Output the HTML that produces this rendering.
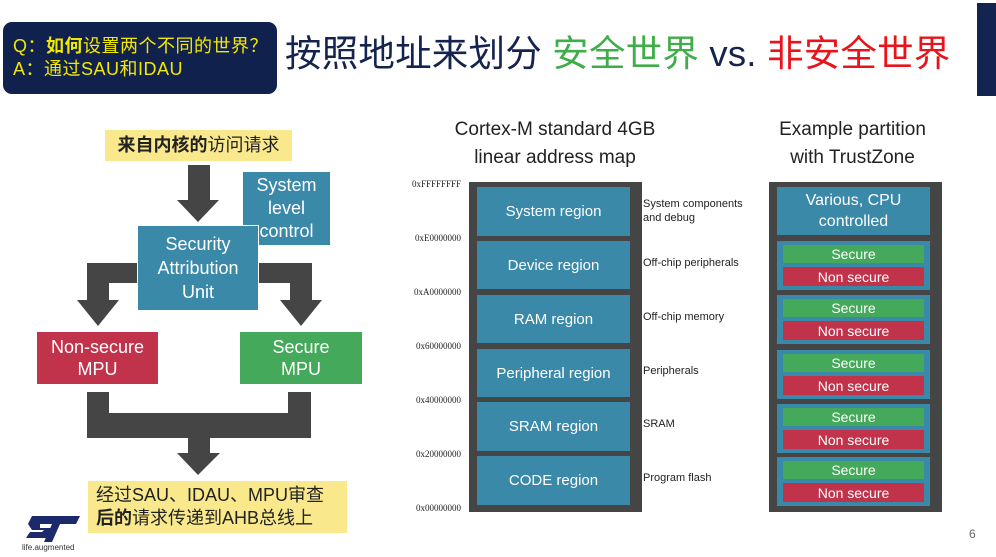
<!DOCTYPE html>
<html><head><meta charset="utf-8"><style>
body{margin:0;width:996px;height:557px;background:#fff;position:relative;overflow:hidden;font-family:"Liberation Sans","Noto Sans CJK SC",sans-serif}
.a{position:absolute}
.c{display:flex;align-items:center;justify-content:center;text-align:center;color:#fff}
.t{background:#3a89a9}
.g{background:#44a95a}
.r{background:#c1334b}
.dk{background:#454545}
.ad{position:absolute;right:535px;font-size:9px;color:#222;font-family:"Liberation Serif",serif}
.sl{position:absolute;left:643px;font-size:11px;color:#222;line-height:14px}
</style></head><body>
<div class="a" style="left:3px;top:22px;width:274px;height:72px;background:#11214d;border-radius:9px"></div>
<div class="a" style="left:13px;top:35px;color:#f2e800;font-size:18px;line-height:23px;letter-spacing:0.5px;white-space:nowrap">Q：<b>如何</b>设置两个不同的世界？<br>A：通过SAU和IDAU</div>
<div class="a" style="left:285px;top:31px;font-size:36.5px;line-height:46px;letter-spacing:0.2px;color:#14244f;white-space:nowrap">按照地址来划分 <span style="color:#3fae4a">安全世界</span> vs. <span style="color:#e8141c">非安全世界</span></div>
<div class="a" style="left:977px;top:3px;width:19px;height:93px;background:#12244f"></div>

<div class="a" style="left:105px;top:130px;width:187px;height:31px;background:#f9e98c;font-size:18px;line-height:31px;text-align:center;color:#222"><b>来自内核的</b>访问请求</div>
<svg class="a" style="left:0;top:0" width="400" height="557">
<g fill="#454545">
<polygon points="188,165 210,165 210,200 219,200 198,222 177,200 188,200"/>
<polygon points="137,263 87,263 87,300 77,300 98,326 119,300 109,300 109,283 137,283"/>
<polygon points="259,263 312,263 312,300 322,300 301,326 280,300 290,300 290,283 259,283"/>
<polygon points="87,392 109,392 109,413 288,413 288,392 311,392 311,438 210,438 210,453 220,453 198,475 177,453 188,453 188,438 87,438"/>
</g>
<g fill="#1b2a6b"><polygon points="32,516 80,516 76,524 60,524 52,542 44,542 52,524 40,524 40,528 52,528 48,538 26,538 30,532 42,532 44,530 32,530 28,524"/></g>
</svg>
<div class="a c t" style="left:243px;top:172px;width:87px;height:73px;font-size:18px;line-height:23px">System<br>level<br>control</div>
<div class="a c t" style="left:137px;top:225px;width:122px;height:86px;font-size:18px;line-height:24px;border:1px solid #fff;box-sizing:border-box">Security<br>Attribution<br>Unit</div>
<div class="a c r" style="left:37px;top:332px;width:121px;height:52px;font-size:18px;line-height:22px">Non-secure<br>MPU</div>
<div class="a c g" style="left:240px;top:332px;width:122px;height:52px;font-size:18px;line-height:22px">Secure<br>MPU</div>
<div class="a" style="left:88px;top:481px;width:259px;height:52px;background:#f9e98c;font-size:18px;line-height:23px;color:#222;padding:3px 0 0 8px;box-sizing:border-box;white-space:nowrap">经过SAU、IDAU、MPU审查<br><b>后的</b>请求传递到AHB总线上</div>
<div class="a" style="left:22px;top:543px;font-size:8px;color:#333">life.augmented</div>

<div class="a" style="left:420px;top:116px;width:270px;text-align:center;font-size:19px;line-height:28px;color:#222">Cortex-M standard 4GB<br>linear address map</div>
<div class="a" style="left:740px;top:116px;width:225px;text-align:center;font-size:19px;line-height:28px;color:#222">Example partition<br>with TrustZone</div>

<div class="a dk" style="left:469px;top:182px;width:173px;height:330px"></div>
<div class="a c t" style="left:477px;top:187px;width:153px;height:49px;font-size:15px">System region</div>
<div class="a c t" style="left:477px;top:241px;width:153px;height:48px;font-size:15px">Device region</div>
<div class="a c t" style="left:477px;top:295px;width:153px;height:48px;font-size:15px">RAM region</div>
<div class="a c t" style="left:477px;top:349px;width:153px;height:48px;font-size:15px">Peripheral region</div>
<div class="a c t" style="left:477px;top:402px;width:153px;height:49px;font-size:15px">SRAM region</div>
<div class="a c t" style="left:477px;top:456px;width:153px;height:49px;font-size:15px">CODE region</div>
<div class="ad" style="top:179px">0xFFFFFFFF</div>
<div class="ad" style="top:233px">0xE0000000</div>
<div class="ad" style="top:287px">0xA0000000</div>
<div class="ad" style="top:341px">0x60000000</div>
<div class="ad" style="top:395px">0x40000000</div>
<div class="ad" style="top:449px">0x20000000</div>
<div class="ad" style="top:503px">0x00000000</div>
<div class="sl" style="top:197px">System components<br>and debug</div>
<div class="sl" style="top:256px">Off-chip peripherals</div>
<div class="sl" style="top:310px">Off-chip memory</div>
<div class="sl" style="top:364px">Peripherals</div>
<div class="sl" style="top:417px">SRAM</div>
<div class="sl" style="top:471px">Program flash</div>

<div class="a dk" style="left:769px;top:182px;width:173px;height:330px"></div>
<div class="a c t" style="left:777px;top:187px;width:153px;height:48px;font-size:16px;line-height:21px">Various, CPU<br>controlled</div>
<div class="a t" style="left:777px;top:241px;width:153px;height:49px"></div>
<div class="a c g" style="left:783px;top:245px;width:141px;height:18px;font-size:14px">Secure</div>
<div class="a c r" style="left:783px;top:267px;width:141px;height:19px;font-size:14px">Non secure</div>
<div class="a t" style="left:777px;top:295px;width:153px;height:49px"></div>
<div class="a c g" style="left:783px;top:299px;width:141px;height:18px;font-size:14px">Secure</div>
<div class="a c r" style="left:783px;top:321px;width:141px;height:19px;font-size:14px">Non secure</div>
<div class="a t" style="left:777px;top:350px;width:153px;height:49px"></div>
<div class="a c g" style="left:783px;top:354px;width:141px;height:18px;font-size:14px">Secure</div>
<div class="a c r" style="left:783px;top:376px;width:141px;height:19px;font-size:14px">Non secure</div>
<div class="a t" style="left:777px;top:404px;width:153px;height:49px"></div>
<div class="a c g" style="left:783px;top:408px;width:141px;height:18px;font-size:14px">Secure</div>
<div class="a c r" style="left:783px;top:430px;width:141px;height:19px;font-size:14px">Non secure</div>
<div class="a t" style="left:777px;top:457px;width:153px;height:49px"></div>
<div class="a c g" style="left:783px;top:461px;width:141px;height:18px;font-size:14px">Secure</div>
<div class="a c r" style="left:783px;top:483px;width:141px;height:19px;font-size:14px">Non secure</div>

<div class="a" style="left:969px;top:527px;font-size:12px;color:#666">6</div>
</body></html>
